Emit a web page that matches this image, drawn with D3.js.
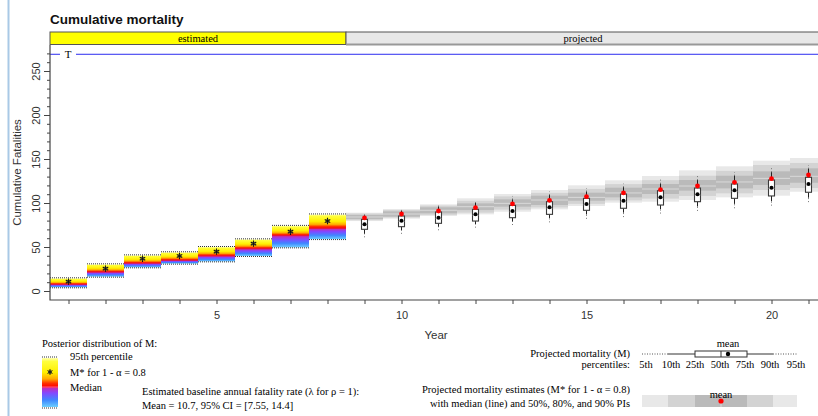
<!DOCTYPE html>
<html>
<head>
<meta charset="utf-8">
<script src="https://cdn.jsdelivr.net/npm/d3@7"></script>
<style>
  body { margin: 0; background: #fff; }
  .sans { font-family: "Liberation Sans", Arial, sans-serif; }
  .serif { font-family: "Liberation Serif", "Times New Roman", serif; }
</style>
</head>
<body>
<div class="chart"></div>
<script>
// Estimated years: posterior distribution of M
var estYears  = [1, 2, 3, 4, 5, 6, 7, 8];
var estLower  = [4.2, 16.3, 26.9, 31.1, 33.7, 39.8, 49.6, 59];
var estMedian = [7.5, 21.5, 31.5, 34.8, 39.8, 48, 62.9, 71.2];
var estUpper  = [14.4, 30.3, 40.5, 44, 50, 58.7, 74, 87];
var estStar   = [10.6, 25.4, 36.7, 39.8, 44.7, 53.8, 67.4, 79.5];

// Projected years: M boxplot percentiles
var projYears = [9, 10, 11, 12, 13, 14, 15, 16, 17, 18, 19, 20, 21];
var mP5   = [61, 65, 69, 72, 75, 78, 82, 84, 88, 91, 94, 97, 101];
var mP10  = [65, 69, 73, 76, 79, 83, 87, 89, 93, 96, 99, 102, 106];
var mP25  = [70.1, 73.1, 76.9, 79.5, 83.3, 87.1, 91.7, 94, 97.7, 101.5, 105.3, 108, 112.2];
var mP50  = [75, 79, 82.5, 86, 90, 94, 98, 101.5, 105.5, 109, 113, 116.5, 120.5];
var mP75  = [81.4, 85.2, 89.8, 92.8, 97.3, 101.5, 105.3, 110.2, 114, 117, 121.6, 126.1, 129.2];
var mP90  = [86, 91, 96, 100, 104, 109, 113, 118, 122, 126, 131, 135, 139];
var mP95  = [89, 94, 99, 103, 108, 113, 117, 122, 127, 131, 135, 140, 143];
var mMean = [75.8, 79.9, 83.3, 87.1, 90.9, 95.1, 98.9, 102.6, 106.5, 109.9, 114.4, 117.4, 121.6];

// Projected M* estimates: median and 50/80/90% PIs
var sLo90 = [79.5, 82.2, 85.2, 87.1, 90.1, 92.8, 96.6, 100.4, 101.5, 103.4, 106.4, 108.3, 112.8];
var sLo80 = [80.5, 83.5, 86.5, 89, 92.5, 95, 99, 103, 105, 108, 111, 114.8, 117];
var sLo50 = [81.8, 84.5, 88.3, 92, 95.8, 97.7, 102.6, 106.4, 110.2, 114, 116.6, 120.5, 123];
var sMed  = [84.1, 87.5, 91.7, 95.8, 99.6, 103.4, 106.4, 111.4, 115.9, 119.3, 123.9, 128, 130.3];
var sHi50 = [86.4, 90.5, 95.1, 99.6, 104.2, 108.3, 111.7, 117.4, 121.6, 126.1, 131, 136, 139.4];
var sHi80 = [88, 92, 97, 102.5, 107.5, 111.5, 116, 121.5, 126, 131, 136.5, 143.2, 145.5];
var sHi90 = [89, 93.2, 98.5, 105.3, 110.2, 114.8, 120.1, 125.8, 130.7, 137.1, 141.7, 148.1, 151.1];
var sMean = [83, 87.5, 90.9, 94.7, 98.9, 103, 107.2, 111.4, 115.1, 119.3, 123.5, 127.6, 131.8];

var threshold = 269;
var yTicksMajor = [0, 50, 100, 150, 200, 250];
var yTicksMinor = d3.range(0, 271, 10);
var xTicksAll = d3.range(1, 22);
var xTicksLabel = [5, 10, 15, 20];
var pctLabels = ["5th", "10th", "25th", "50th", "75th", "90th", "95th"];

var svgWidth = 818, svgHeight = 416;
var svg = d3.select(".chart").append("svg")
  .attr("width", svgWidth)
  .attr("height", svgHeight)
  .style("display", "block");

svg.append("rect").attr("width", svgWidth).attr("height", svgHeight).attr("fill", "#fff");
// light window edge on the left
svg.append("line").attr("x1", 8.5).attr("x2", 8.5).attr("y1", 0).attr("y2", svgHeight)
  .attr("stroke", "#a9c9e6").attr("stroke-width", 2);

var x = d3.scaleLinear().domain([0.5, 21.5]).range([50, 827]);
var y = d3.scaleLinear().domain([0, 250]).range([291, 71]);
var plotTop = 45, plotBottom = 300;

var defs = svg.append("defs");

// gradient stops: f = position of the median from the top (0..1)
function gradStops(f) {
  return [
    [0, "#ffffb4"], [0.12 * f, "#ffff3c"], [0.5 * f, "#ffee00"],
    [0.72 * f, "#ffaa00"], [0.87 * f, "#ff3000"], [f, "#ff0000"],
    [f + 0.04 * (1 - f), "#c32cb4"], [f + 0.3 * (1 - f), "#8447ff"],
    [f + 0.65 * (1 - f), "#3f86ff"], [1, "#6ccfff"]
  ];
}
function makeGradient(id, f) {
  var g = defs.append("linearGradient").attr("id", id)
    .attr("x1", 0).attr("y1", 0).attr("x2", 0).attr("y2", 1);
  gradStops(f).forEach(function(s) {
    g.append("stop").attr("offset", s[0]).attr("stop-color", s[1]);
  });
}

// Title
svg.append("text").attr("class", "sans").attr("x", 50).attr("y", 24)
  .attr("font-size", "13.5px").attr("font-weight", "bold").attr("fill", "#111")
  .text("Cumulative mortality");

// Header strip
svg.append("rect").attr("x", x(0.5)).attr("y", 32).attr("width", x(8.5) - x(0.5)).attr("height", 12.5)
  .attr("fill", "#ffff00").attr("stroke", "#555");
svg.append("rect").attr("x", x(8.5)).attr("y", 32).attr("width", x(21.5) - x(8.5)).attr("height", 12.5)
  .attr("fill", "#e8e8e8").attr("stroke", "#555");
svg.append("line").attr("x1", x(8.5)).attr("x2", x(21.5)).attr("y1", 44.5).attr("y2", 44.5)
  .attr("stroke", "#999").attr("stroke-width", 2);
svg.append("text").attr("class", "serif").attr("x", (x(0.5) + x(8.5)) / 2).attr("y", 42)
  .attr("text-anchor", "middle").attr("font-size", "10.5px").text("estimated");
svg.append("text").attr("class", "serif").attr("x", 583).attr("y", 42)
  .attr("text-anchor", "middle").attr("font-size", "10.5px").text("projected");

// Threshold line
svg.append("line").attr("x1", x(0.5)).attr("x2", 60).attr("y1", y(threshold)).attr("y2", y(threshold))
  .attr("stroke", "#2b2bf0");
svg.append("line").attr("x1", 76).attr("x2", x(21.5)).attr("y1", y(threshold)).attr("y2", y(threshold))
  .attr("stroke", "#2b2bf0");
svg.append("text").attr("class", "serif").attr("x", 68).attr("y", y(threshold) + 4)
  .attr("text-anchor", "middle").attr("font-size", "11px").text("T");

// Estimated bars
var estGroup = svg.append("g");
estYears.forEach(function(yr, i) {
  var top = y(estUpper[i]), bot = y(estLower[i]);
  var f = (y(estMedian[i]) - top) / (bot - top);
  makeGradient("grad" + i, f);
  estGroup.append("rect")
    .attr("x", x(yr - 0.5)).attr("y", top)
    .attr("width", x(yr + 0.5) - x(yr - 0.5)).attr("height", bot - top)
    .attr("fill", "url(#grad" + i + ")");
  estGroup.append("line")
    .attr("x1", x(yr - 0.5)).attr("x2", x(yr + 0.5))
    .attr("y1", y(estMedian[i])).attr("y2", y(estMedian[i]))
    .attr("stroke", "#e0184a").attr("stroke-width", 1);
  [top - 0.5, bot + 0.5].forEach(function(yy) {
    estGroup.append("line")
      .attr("x1", x(yr - 0.5)).attr("x2", x(yr + 0.5))
      .attr("y1", yy).attr("y2", yy)
      .attr("stroke", "#333").attr("stroke-dasharray", "1,1");
  });
  estGroup.append("path")
    .attr("d", d3.symbol(d3.symbolAsterisk, 28)())
    .attr("transform", "translate(" + x(yr) + "," + y(estStar[i]) + ")")
    .attr("stroke", "#111").attr("stroke-width", 1.1).attr("fill", "none");
  estGroup.append("circle").attr("cx", x(yr)).attr("cy", y(estStar[i])).attr("r", 1.6)
    .attr("fill", "none").attr("stroke", "#333").attr("stroke-width", 0.8);
});

// Projected PI bands
var bandGroup = svg.append("g");
projYears.forEach(function(yr, i) {
  var x0 = x(yr - 0.5), w = x(yr + 0.5) - x(yr - 0.5);
  [[sLo90, sHi90, "#e8e8e8"], [sLo80, sHi80, "#d3d3d3"], [sLo50, sHi50, "#bababa"]].forEach(function(b) {
    bandGroup.append("rect").attr("x", x0).attr("width", w)
      .attr("y", y(b[1][i])).attr("height", y(b[0][i]) - y(b[1][i]))
      .attr("fill", b[2]);
  });
  bandGroup.append("line").attr("x1", x0).attr("x2", x0 + w)
    .attr("y1", y(sMed[i])).attr("y2", y(sMed[i]))
    .attr("stroke", "#d9d9d9").attr("stroke-width", 1);
});

// Projected M boxplots
var boxGroup = svg.append("g");
var bw = 6;
projYears.forEach(function(yr, i) {
  var cx = x(yr);
  [[mP5, mP10], [mP90, mP95]].forEach(function(p) {
    boxGroup.append("line").attr("x1", cx).attr("x2", cx)
      .attr("y1", y(p[0][i])).attr("y2", y(p[1][i]))
      .attr("stroke", "#777").attr("stroke-dasharray", "1,2");
  });
  [[mP10, mP25], [mP75, mP90]].forEach(function(p) {
    boxGroup.append("line").attr("x1", cx).attr("x2", cx)
      .attr("y1", y(p[0][i])).attr("y2", y(p[1][i]))
      .attr("stroke", "#222").attr("stroke-width", 1);
  });
  boxGroup.append("rect").attr("x", cx - bw / 2).attr("width", bw)
    .attr("y", y(mP75[i])).attr("height", y(mP25[i]) - y(mP75[i]))
    .attr("fill", "#fff").attr("stroke", "#3a3a3a").attr("stroke-width", 1.1);
  boxGroup.append("line").attr("x1", cx - bw / 2).attr("x2", cx + bw / 2)
    .attr("y1", y(mP50[i])).attr("y2", y(mP50[i]))
    .attr("stroke", "#aaa").attr("stroke-width", 0.7);
  boxGroup.append("circle").attr("cx", cx).attr("cy", y(sMean[i])).attr("r", 2.4).attr("fill", "#ff0000");
  boxGroup.append("circle").attr("cx", cx).attr("cy", y(mMean[i])).attr("r", 2).attr("fill", "#000");
});

// Axes frame
svg.append("path")
  .attr("d", "M50," + plotTop + "V" + plotBottom + "H" + x(21.5))
  .attr("fill", "none").attr("stroke", "#444").attr("stroke-width", 1.2);

// Y axis
var yMinor = svg.append("g").attr("transform", "translate(50,0)")
  .call(d3.axisLeft(y).tickValues(yTicksMinor).tickSize(3).tickFormat(""));
yMinor.select(".domain").remove();
yMinor.selectAll("line").attr("stroke", "#444");

var yMajor = svg.append("g").attr("transform", "translate(50,0)")
  .call(d3.axisLeft(y).tickValues(yTicksMajor).tickSize(6));
yMajor.select(".domain").remove();
yMajor.selectAll("line").attr("stroke", "#444");
yMajor.selectAll("text")
  .attr("class", "sans").attr("font-size", "11px").attr("fill", "#333")
  .attr("transform", "rotate(-90)").attr("x", 0).attr("y", -10).attr("dy", 0)
  .attr("text-anchor", "middle");

svg.append("text").attr("class", "sans")
  .attr("transform", "translate(21," + (plotTop + plotBottom) / 2 + ") rotate(-90)")
  .attr("text-anchor", "middle").attr("font-size", "11.5px").attr("fill", "#333")
  .text("Cumulative Fatalities");

// X axis
var xAxis = svg.append("g").attr("transform", "translate(0," + plotBottom + ")")
  .call(d3.axisBottom(x).tickValues(xTicksAll).tickSize(4)
    .tickFormat(function(d) { return xTicksLabel.indexOf(d) >= 0 ? d : ""; }));
xAxis.select(".domain").remove();
xAxis.selectAll("line").attr("stroke", "#444");
xAxis.selectAll("text").attr("class", "sans").attr("font-size", "11px").attr("fill", "#333")
  .attr("y", 11);

svg.append("text").attr("class", "sans").attr("x", 436).attr("y", 339)
  .attr("text-anchor", "middle").attr("font-size", "11.5px").attr("fill", "#333").text("Year");

// Legend: posterior distribution of M
var leg = svg.append("g").attr("class", "serif").attr("font-size", "10.5px").attr("fill", "#000");
leg.append("text").attr("x", 42).attr("y", 347).text("Posterior distribution of M:");
makeGradient("gradLegend", (387 - 358) / (407 - 358));
leg.append("rect").attr("x", 42).attr("y", 358).attr("width", 16).attr("height", 49)
  .attr("fill", "url(#gradLegend)");
leg.append("line").attr("x1", 42).attr("x2", 58).attr("y1", 387).attr("y2", 387)
  .attr("stroke", "#ff5c8a").attr("stroke-width", 1);
[357, 408].forEach(function(yy) {
  leg.append("line").attr("x1", 42).attr("x2", 58).attr("y1", yy).attr("y2", yy)
    .attr("stroke", "#333").attr("stroke-dasharray", "1,1");
});
leg.append("path").attr("d", d3.symbol(d3.symbolAsterisk, 22)())
  .attr("transform", "translate(50,372)").attr("stroke", "#111").attr("stroke-width", 1).attr("fill", "none");
leg.append("circle").attr("cx", 50).attr("cy", 372).attr("r", 1.5)
  .attr("fill", "none").attr("stroke", "#333").attr("stroke-width", 0.8);
leg.append("text").attr("x", 70).attr("y", 360).text("95th percentile");
leg.append("text").attr("x", 70).attr("y", 376).text("M* for 1 - \u03b1 = 0.8");
leg.append("text").attr("x", 70).attr("y", 391).text("Median");
leg.append("text").attr("x", 142).attr("y", 395).text("Estimated baseline annual fatality rate (\u03bb for \u03c1 = 1):");
leg.append("text").attr("x", 142).attr("y", 409).text("Mean = 10.7, 95% CI = [7.55, 14.4]");

// Legend: projected mortality boxplot
var pctX = [646, 671, 695, 720, 745, 770, 796];
var pctLine = [642, 668, 695, 721, 747, 773, 797];
var leg2 = svg.append("g").attr("class", "serif").attr("font-size", "10.5px").attr("fill", "#000");
leg2.append("text").attr("x", 630).attr("y", 357).attr("text-anchor", "end").text("Projected mortality (M)");
leg2.append("text").attr("x", 630).attr("y", 368).attr("text-anchor", "end").text("percentiles:");
pctLabels.forEach(function(t, i) {
  leg2.append("text").attr("x", pctX[i]).attr("y", 368).attr("text-anchor", "middle").text(t);
});
var ly = 354;
leg2.append("line").attr("x1", pctLine[0]).attr("x2", pctLine[1]).attr("y1", ly).attr("y2", ly)
  .attr("stroke", "#555").attr("stroke-dasharray", "1,1.5");
leg2.append("line").attr("x1", pctLine[5]).attr("x2", pctLine[6]).attr("y1", ly).attr("y2", ly)
  .attr("stroke", "#555").attr("stroke-dasharray", "1,1.5");
leg2.append("line").attr("x1", pctLine[1]).attr("x2", pctLine[2]).attr("y1", ly).attr("y2", ly).attr("stroke", "#333");
leg2.append("line").attr("x1", pctLine[4]).attr("x2", pctLine[5]).attr("y1", ly).attr("y2", ly).attr("stroke", "#333");
leg2.append("rect").attr("x", pctLine[2]).attr("y", ly - 3).attr("width", pctLine[4] - pctLine[2]).attr("height", 6)
  .attr("fill", "#fff").attr("stroke", "#333");
leg2.append("line").attr("x1", pctLine[3]).attr("x2", pctLine[3]).attr("y1", ly - 3).attr("y2", ly + 3).attr("stroke", "#333");
leg2.append("circle").attr("cx", 728).attr("cy", ly).attr("r", 2.2).attr("fill", "#000");
leg2.append("text").attr("x", 728).attr("y", 347).attr("text-anchor", "middle").text("mean");

// Legend: projected estimates bands
leg2.append("text").attr("x", 630).attr("y", 393).attr("text-anchor", "end")
  .text("Projected mortality estimates (M* for 1 - \u03b1 = 0.8)");
leg2.append("text").attr("x", 630).attr("y", 407).attr("text-anchor", "end")
  .text("with median (line) and 50%, 80%, and 90% PIs");
var bandFill = ["#e8e8e8", "#d3d3d3", "#bababa", "#bababa", "#d3d3d3", "#e8e8e8"];
var bandEdges = [642, 668, 695, 721, 747, 773, 797];
bandFill.forEach(function(c, i) {
  leg2.append("rect").attr("x", bandEdges[i]).attr("y", 395)
    .attr("width", bandEdges[i + 1] - bandEdges[i]).attr("height", 12).attr("fill", c);
});
leg2.append("line").attr("x1", 721).attr("x2", 721).attr("y1", 395).attr("y2", 407).attr("stroke", "#d9d9d9");
leg2.append("circle").attr("cx", 721).attr("cy", 401).attr("r", 2.6).attr("fill", "#ff0000");
leg2.append("text").attr("x", 721).attr("y", 398).attr("text-anchor", "middle").text("mean");
</script>
</body>
</html>
